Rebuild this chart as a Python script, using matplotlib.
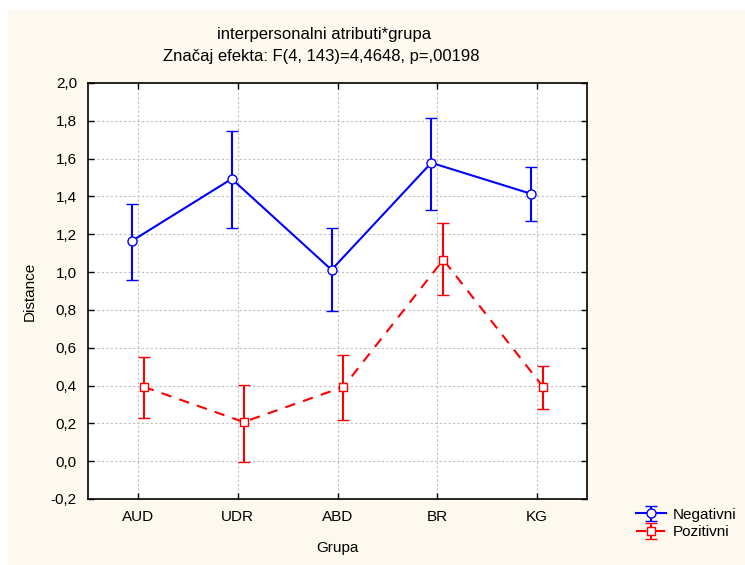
import numpy as np
import matplotlib
matplotlib.use('Agg')
import matplotlib.pyplot as plt
from matplotlib.patches import Rectangle

plt.rcParams['font.family'] = ['Liberation Sans', 'DejaVu Sans']

groups = ['AUD', 'UDR', 'ABD', 'BR', 'KG']

neg_mean = [1.165, 1.493, 1.012, 1.578, 1.414]
neg_low = [0.959, 1.234, 0.795, 1.329, 1.271]
neg_high = [1.361, 1.747, 1.234, 1.816, 1.557]

pos_mean = [0.393, 0.207, 0.393, 1.065, 0.393]
pos_low = [0.229, -0.004, 0.218, 0.879, 0.276]
pos_high = [0.551, 0.403, 0.562, 1.260, 0.504]

yticks = np.arange(-0.2, 2.01, 0.2)
ytick_labels = [f"{v:.1f}".replace('.', ',') for v in yticks]

bg = '#fdf9ef'

fig = plt.figure(figsize=(7.45, 5.65), dpi=100, facecolor='white')
fig.patches.append(Rectangle((8 / 745, 0), 1, 1 - 10 / 565, transform=fig.transFigure,
                             facecolor=bg, edgecolor='none', zorder=-10))

ax = fig.add_axes([88 / 745, 66 / 565, 499 / 745, 416 / 565])
ax.set_facecolor('white')

x = np.arange(len(groups))
off = 0.06

nm = np.array(neg_mean)
pm = np.array(pos_mean)
neg = ax.errorbar(x - off, nm, yerr=[nm - np.array(neg_low), np.array(neg_high) - nm],
                  color='#0000ff', lw=1.5, elinewidth=1.5, capsize=4.3, capthick=1.5,
                  marker='o', ms=6.5, mfc='white', mec='#0000ff', mew=1.0,
                  label='Negativni', zorder=3)
pos = ax.errorbar(x + off, pm, yerr=[pm - np.array(pos_low), np.array(pos_high) - pm],
                  color='#ff0000', lw=1.5, elinewidth=1.5, capsize=4.3, capthick=1.5,
                  ls=(0, (5, 4)), marker='s', ms=6, mfc='white', mec='#ff0000', mew=1.0,
                  label='Pozitivni', zorder=3)

ax.set_xlim(-0.5, 4.5)
ax.set_ylim(-0.2, 2.0)
ax.set_xticks(x)
ax.set_xticklabels(groups)
ax.set_yticks(yticks)
ax.set_yticklabels(ytick_labels)
ax.tick_params(direction='in', length=4, width=1, labelsize=11, top=True, right=True,
               pad=8)
ax.grid(True, color='#c0c0c0', ls=(0, (2, 2)), lw=0.8)
for s in ax.spines.values():
    s.set_linewidth(1.2)

ax.set_xlabel('Grupa', fontsize=11, labelpad=12)
ax.set_ylabel('Distance', fontsize=11, labelpad=10)

fig.text(324 / 745, 1 - 34 / 565, 'interpersonalni atributi*grupa', ha='center', va='center', fontsize=12)
fig.text(321 / 745, 1 - 56 / 565, 'Značaj efekta: F(4, 143)=4,4648, p=,00198', ha='center', va='center',
         fontsize=12)

fig.legend(handles=[neg, pos], loc='upper left', bbox_to_anchor=(628 / 745, 1 - 500 / 565),
           frameon=False, fontsize=11, handlelength=2.0, handletextpad=0.4,
           labelspacing=0.25, borderpad=0)

fig.savefig('out.png', dpi=100, facecolor=fig.get_facecolor())
